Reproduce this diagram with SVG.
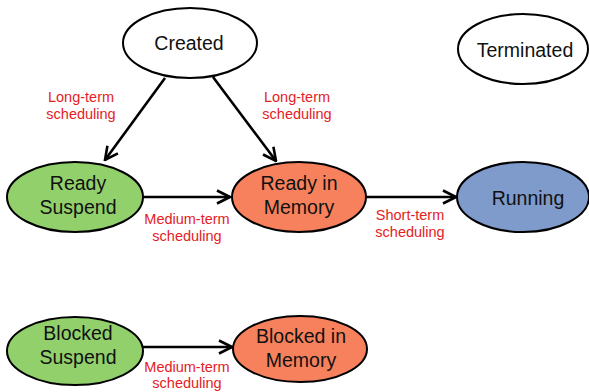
<svg xmlns="http://www.w3.org/2000/svg" width="589" height="392" viewBox="0 0 589 392">
  <style>
    .node { stroke: #000; stroke-width: 2; }
    .plain { fill: #fff; }
    .green { fill: #92d06c; }
    .orange { fill: #f7815c; }
    .blue { fill: #7e9bcb; }
    .name { font-family: "Liberation Sans", Arial, sans-serif; font-size: 19.5px; fill: #111; text-anchor: middle; }
    .lbl { font-family: "Liberation Sans", Arial, sans-serif; font-size: 14.5px; fill: #e41c24; text-anchor: middle; }
    .edge { stroke: #000; stroke-width: 2.6; fill: none; }
  </style>
  <defs>
    <marker id="head" viewBox="0 0 12 12" refX="11" refY="6" markerWidth="6" markerHeight="6" markerUnits="strokeWidth" orient="auto">
      <polyline points="1,1 11,6 1,11" fill="none" stroke="#000" stroke-width="2"/>
    </marker>
  </defs>
  <rect width="589" height="392" fill="#fff"/>

  <g id="connectors">
    <line class="edge" x1="165" y1="78" x2="105" y2="160" marker-end="url(#head)"/>
    <line class="edge" x1="213" y1="77" x2="276" y2="161" marker-end="url(#head)"/>
    <line class="edge" x1="143" y1="197" x2="230" y2="197" marker-end="url(#head)"/>
    <line class="edge" x1="366" y1="197" x2="456" y2="197" marker-end="url(#head)"/>
    <line class="edge" x1="143" y1="347" x2="232" y2="347" marker-end="url(#head)"/>
  </g>

  <g id="labels">
    <text class="lbl" x="81" y="102">Long-term</text>
    <text class="lbl" x="81" y="119">scheduling</text>
    <text class="lbl" x="297" y="102">Long-term</text>
    <text class="lbl" x="297" y="119">scheduling</text>
    <text class="lbl" x="187" y="224">Medium-term</text>
    <text class="lbl" x="187" y="241">scheduling</text>
    <text class="lbl" x="410" y="220">Short-term</text>
    <text class="lbl" x="410" y="237">scheduling</text>
    <text class="lbl" x="187" y="372">Medium-term</text>
    <text class="lbl" x="187" y="388">scheduling</text>
  </g>

  <g id="created">
    <ellipse class="node plain" cx="190" cy="43" rx="67" ry="35"/>
    <text class="name" x="189" y="50">Created</text>
  </g>
  <g id="terminated">
    <ellipse class="node plain" cx="523" cy="49" rx="65" ry="35"/>
    <text class="name" x="525" y="57">Terminated</text>
  </g>
  <g id="ready-suspend">
    <ellipse class="node green" cx="75" cy="197" rx="68" ry="35"/>
    <text class="name" x="78" y="190">Ready</text>
    <text class="name" x="78" y="214">Suspend</text>
  </g>
  <g id="ready-memory">
    <ellipse class="node orange" cx="299" cy="197" rx="67" ry="35"/>
    <text class="name" x="299" y="190">Ready in</text>
    <text class="name" x="299" y="214">Memory</text>
  </g>
  <g id="running">
    <ellipse class="node blue" cx="523" cy="197" rx="66" ry="35"/>
    <text class="name" x="528" y="205">Running</text>
  </g>
  <g id="blocked-suspend">
    <ellipse class="node green" cx="75" cy="351" rx="68" ry="34"/>
    <text class="name" x="78" y="340">Blocked</text>
    <text class="name" x="78" y="364">Suspend</text>
  </g>
  <g id="blocked-memory">
    <ellipse class="node orange" cx="300" cy="349" rx="67" ry="33"/>
    <text class="name" x="301" y="343">Blocked in</text>
    <text class="name" x="301" y="367">Memory</text>
  </g>
</svg>
